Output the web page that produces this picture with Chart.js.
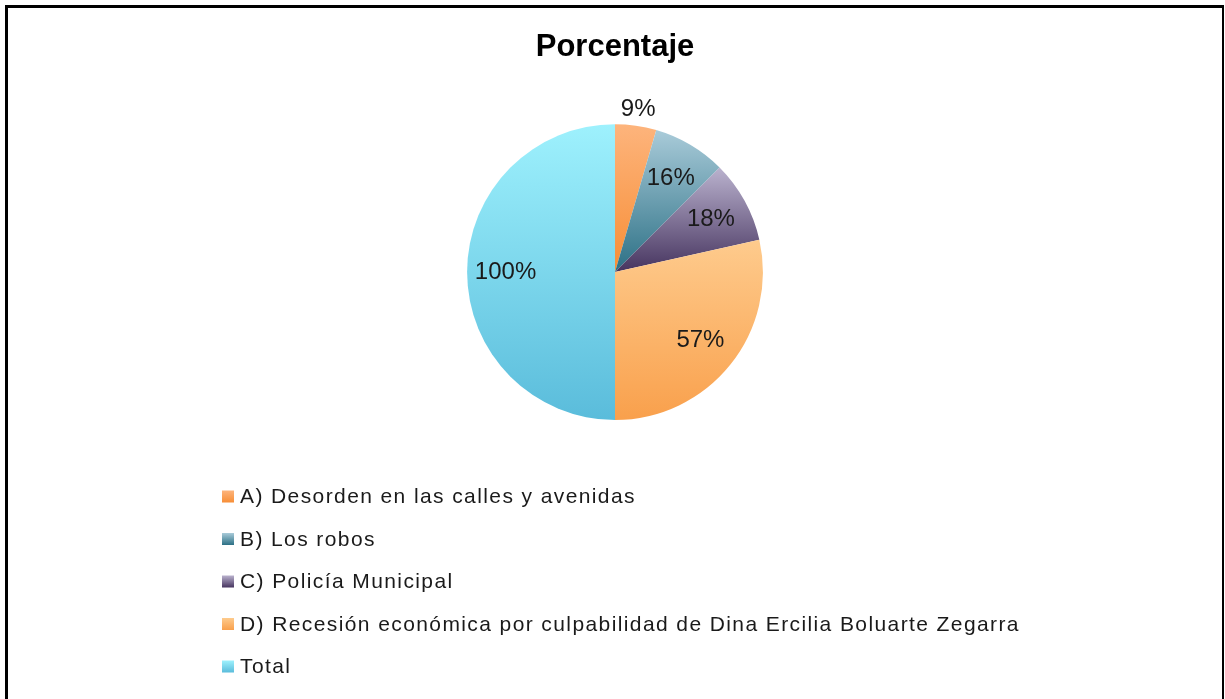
<!DOCTYPE html>
<html>
<head>
<meta charset="utf-8">
<script src="https://cdn.jsdelivr.net/npm/chart.js@4.4.0/dist/chart.umd.min.js"></script>
<style>
  body { margin: 0; background: #fff; }
  #frame {
    position: absolute; left: 5px; top: 5px;
    width: 1214px; height: 700px;
    border-left: 3px solid #000; border-top: 3px solid #000; border-right: 2px solid #000;
  }
  canvas { display: block; }
</style>
</head>
<body>
<div id="frame"><canvas id="chart" width="1214" height="691"></canvas></div>
<script>
// data
var categories = [
  "A) Desorden en las calles y avenidas",
  "B) Los robos",
  "C) Policía Municipal",
  "D) Recesión económica por culpabilidad de Dina Ercilia Boluarte Zegarra",
  "Total"
];
var values = [9, 16, 18, 57, 100];

// excel style gradient, light on top, dark at bottom
var topColors = ["#fdb47c", "#a9cbd9", "#bab2ce", "#fecb8d", "#9ef1fd"];
var bottomColors = ["#f78e36", "#2c7085", "#46345f", "#f9a04c", "#5abcdb"];

var FONT = '"Liberation Sans", Arial, sans-serif';

var total = values.reduce(function (a, b) { return a + b; }, 0);

// vertical gradient over the bounding box of one slice
function sliceGradient(ctx) {
  var chart = ctx.chart;
  var area = chart.chartArea;
  var i = ctx.dataIndex;
  if (!area) return topColors[i];
  var meta = chart.getDatasetMeta(0);
  var r = meta.controller.outerRadius ||
    Math.min(area.right - area.left, area.bottom - area.top) / 2;
  var cy = (area.top + area.bottom) / 2;
  var start = -Math.PI / 2;
  for (var k = 0; k < i; k++) start += values[k] / total * 2 * Math.PI;
  var end = start + values[i] / total * 2 * Math.PI;
  var ys = [cy, cy + r * Math.sin(start), cy + r * Math.sin(end)];
  [Math.PI / 2, 3 * Math.PI / 2].forEach(function (a) {
    if (a > start && a < end) ys.push(cy + r * Math.sin(a));
  });
  var g = chart.ctx.createLinearGradient(0, Math.min.apply(null, ys), 0, Math.max.apply(null, ys));
  g.addColorStop(0, topColors[i]);
  g.addColorStop(1, bottomColors[i]);
  return g;
}

// percent labels, very small slices go outside
const sliceLabels = {
  id: "sliceLabels",
  afterDatasetsDraw(chart) {
    const c = chart.ctx;
    const meta = chart.getDatasetMeta(0);
    c.save();
    c.font = "24px " + FONT;
    c.fillStyle = "#1a1a1a";
    c.textAlign = "center";
    c.textBaseline = "middle";
    meta.data.forEach(function (arc, i) {
      const p = arc.getProps(["x", "y", "startAngle", "endAngle", "outerRadius"]);
      const mid = (p.startAngle + p.endAngle) / 2;
      const f = values[i] / total < 0.06 ? 1.11 : 0.74;
      c.fillText(values[i] + "%",
        p.x + Math.cos(mid) * p.outerRadius * f,
        p.y + Math.sin(mid) * p.outerRadius * f);
    });
    c.restore();
  }
};

// one item per row legend under the pie
const listLegend = {
  id: "listLegend",
  afterDraw(chart, args, opts) {
    const c = chart.ctx;
    c.save();
    c.font = "21px " + FONT;
    c.letterSpacing = "1.4px";
    c.textBaseline = "middle";
    c.textAlign = "left";
    categories.forEach(function (label, i) {
      const y = opts.top + i * opts.step;
      const g = c.createLinearGradient(0, y - opts.box / 2, 0, y + opts.box / 2);
      g.addColorStop(0, topColors[i]);
      g.addColorStop(1, bottomColors[i]);
      c.fillStyle = g;
      c.fillRect(opts.left, y - opts.box / 2, opts.box, opts.box);
      c.fillStyle = "#1a1a1a";
      c.fillText(label, opts.left + opts.box + 6, y + 1);
    });
    c.restore();
  }
};

var ctx = document.getElementById("chart").getContext("2d");

var chart = new Chart(ctx, {
  type: "pie",
  data: {
    labels: categories,
    datasets: [{
      data: values,
      backgroundColor: sliceGradient,
      borderWidth: 0
    }]
  },
  options: {
    responsive: false,
    animation: false,
    events: [],
    layout: { padding: { top: 0, bottom: 279, left: 0, right: 0 } },
    plugins: {
      legend: { display: false },
      tooltip: { enabled: false },
      title: {
        display: true,
        text: "Porcentaje",
        color: "#000",
        font: { family: FONT, size: 31, weight: "bold" },
        padding: { top: 21, bottom: 58 }
      },
      listLegend: { left: 214, top: 488.5, step: 42.5, box: 12 }
    }
  },
  plugins: [sliceLabels, listLegend]
});
</script>
</body>
</html>
